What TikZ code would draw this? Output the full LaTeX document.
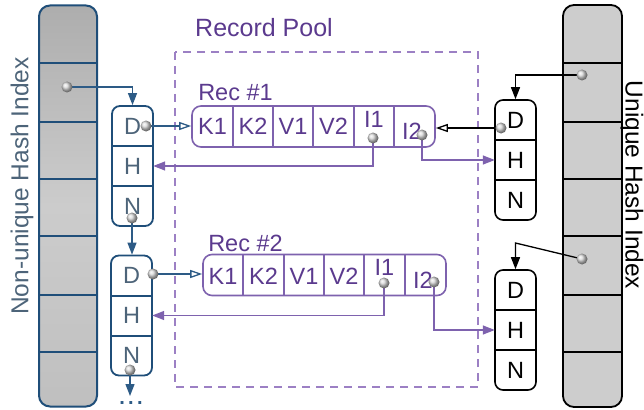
\documentclass[tikz,border=0pt]{standalone}
\usepackage{fontspec}
\setmainfont{Liberation Sans}
\usetikzlibrary{arrows.meta}

\definecolor{nblue}{HTML}{1F4E79}
\definecolor{ablue}{HTML}{2D5B86}
\definecolor{nslate}{HTML}{4D6479}
\definecolor{rpurple}{HTML}{7E62AE}
\definecolor{rtext}{HTML}{5B3A8E}
\definecolor{pooldash}{HTML}{9C80C4}
\definecolor{ubar}{HTML}{CDCDCD}

\tikzset{
  fsz/.style={font=\fontsize{#1}{#1}\selectfont},
  % hash index columns
  nbar/.style={draw=nblue, line width=2pt, rounded corners=11pt,
    top color=black!32, bottom color=black!25, middle color=black!20,
    minimum width=58pt, minimum height=401pt, inner sep=0pt},
  ubarbox/.style={draw=black, line width=1.8pt, rounded corners=11pt, fill=ubar,
    minimum width=59pt, minimum height=402pt, inner sep=0pt},
  % D/H/N chain entries
  lchain/.style={draw=nblue, line width=1.8pt, rounded corners=8pt, fill=white,
    minimum width=41pt, minimum height=120pt, inner sep=0pt},
  rchain/.style={draw=black, line width=1.6pt, rounded corners=8pt, fill=white,
    minimum width=41pt, minimum height=120pt, inner sep=0pt},
  cell/.style={minimum width=41pt, minimum height=40pt, inner sep=0pt, fsz=23.5},
  % records
  recbox/.style={draw=rpurple, line width=1.6pt, rounded corners=9pt, fill=white,
    minimum width=243pt, minimum height=41pt, inner sep=0pt},
  rcell/.style={inner sep=0pt, text=rtext, fsz=23.5},
  ball/.style={circle, minimum size=11pt, inner sep=0pt, shading=ball, ball color=gray!30},
  blink/.style={draw=ablue, line width=1.3pt, -{Triangle[length=12pt,width=9pt]}},
  bopen/.style={draw=ablue, line width=1.3pt, -{Triangle[open,length=12pt,width=8pt,fill=white]}},
  plink/.style={draw=rpurple, line width=1.3pt, -{Triangle[length=12pt,width=9pt]}},
  klink/.style={draw=black, line width=1.3pt, -{Triangle[length=12pt,width=9pt]}},
  kopen/.style={draw=black, line width=1.3pt, -{Triangle[open,length=12pt,width=8pt,fill=white]}},
}

\begin{document}
\begin{tikzpicture}[x=1pt, y=-1pt]
\useasboundingbox (0,0) rectangle (644,409);

% ---- record pool frame
\draw[pooldash, line width=1.8pt, dash pattern=on 8pt off 6pt] (175,52) rectangle (478,387);
\node[fsz=25, text=rtext] (pooltitle) at (264,27.5) {Record Pool};

% ---- non-unique hash index column
\node[nbar] (nbar) at (68,206) {};
\foreach \yy in {63,122,179,236,295,352}
  \draw[nblue, line width=2pt] (39,\yy) -- (97,\yy);
\node[rotate=90, fsz=24.5, text=nslate] (nlabel) at (22,186) {Non-unique Hash Index};

% ---- unique hash index column
\node[ubarbox] (ubar) at (592.5,206) {};
\foreach \yy in {63,122,179,236,295,352}
  \draw[black, line width=1.8pt] (563,\yy) -- (622,\yy);
\node[rotate=-90, fsz=24.5] (ulabel) at (632,185) {Unique Hash Index};

% ---- left chain entries
\node[lchain] (lcA) at (132.5,166) {};
\node[cell, text=nslate] (lcA-D) at (132.5,126) {D};
\node[cell, text=nslate] (lcA-H) at (132.5,166) {H};
\node[cell, text=nslate] (lcA-N) at (132.5,206) {N};
\draw[nblue, line width=1.8pt] (lcA-D.south west) -- (lcA-D.south east);
\draw[nblue, line width=1.8pt] (lcA-H.south west) -- (lcA-H.south east);

\node[lchain] (lcB) at (131.5,315.5) {};
\node[cell, text=nslate] (lcB-D) at (131.5,275.5) {D};
\node[cell, text=nslate] (lcB-H) at (131.5,315.5) {H};
\node[cell, text=nslate] (lcB-N) at (131.5,355.5) {N};
\draw[nblue, line width=1.8pt] (lcB-D.south west) -- (lcB-D.south east);
\draw[nblue, line width=1.8pt] (lcB-H.south west) -- (lcB-H.south east);

% ---- right chain entries
\node[rchain] (rcA) at (515.5,160) {};
\node[cell] (rcA-D) at (515.5,120) {D};
\node[cell] (rcA-H) at (515.5,160) {H};
\node[cell] (rcA-N) at (515.5,200) {N};
\draw[black, line width=1.6pt] (rcA-D.south west) -- (rcA-D.south east);
\draw[black, line width=1.6pt] (rcA-H.south west) -- (rcA-H.south east);

\node[rchain] (rcB) at (515.5,330) {};
\node[cell] (rcB-D) at (515.5,290) {D};
\node[cell] (rcB-H) at (515.5,330) {H};
\node[cell] (rcB-N) at (515.5,370) {N};
\draw[black, line width=1.6pt] (rcB-D.south west) -- (rcB-D.south east);
\draw[black, line width=1.6pt] (rcB-H.south west) -- (rcB-H.south east);

% ---- record #1
\node[fsz=23.5, text=rtext] (rec1lab) at (235.5,93) {Rec \#1};
\node[recbox] (rec1) at (313.5,126.5) {};
\foreach \xx in {233,273,313,354,394}
  \draw[rpurple, line width=1.4pt] (\xx,106) -- (\xx,147);
\node[rcell] (r1-K1) at (212.5,126) {K1};
\node[rcell] (r1-K2) at (253,126) {K2};
\node[rcell] (r1-V1) at (293,126) {V1};
\node[rcell] (r1-V2) at (333.5,126) {V2};
\node[rcell] (r1-I1) at (374,119) {I1};
\node[rcell] (r1-I2) at (412,131) {I2};

% ---- record #2
\node[fsz=23.5, text=rtext] (rec2lab) at (245.5,243.5) {Rec \#2};
\node[recbox] (rec2) at (324.5,275) {};
\foreach \xx in {243,284,324,364,405}
  \draw[rpurple, line width=1.4pt] (\xx,255) -- (\xx,295);
\node[rcell] (r2-K1) at (223,276) {K1};
\node[rcell] (r2-K2) at (263.5,276) {K2};
\node[rcell] (r2-V1) at (304,276) {V1};
\node[rcell] (r2-V2) at (344,276) {V2};
\node[rcell] (r2-I1) at (384.5,267) {I1};
\node[rcell] (r2-I2) at (423,280) {I2};

% ---- pointer origins
\coordinate (pN1) at (67,87);
\coordinate (pAD) at (146,126);
\coordinate (pAN) at (132,218);
\coordinate (pBD) at (153,274);
\coordinate (pBN) at (130,370);
\coordinate (p1I1) at (373,138);
\coordinate (p1I2) at (422,135);
\coordinate (p2I1) at (384,283);
\coordinate (p2I2) at (434,282);
\coordinate (pRD) at (501,128);
\coordinate (pU1) at (582,75);
\coordinate (pU2) at (582,259);
\coordinate (more) at (130,396);

% ---- connectors
\draw[blink] (pN1) -| (lcA.north);
\draw[bopen] (pAD) -- (pAD -| rec1.west);
\draw[blink] (pAN) -- (pAN |- lcB.north);
\draw[bopen] (pBD) -- (pBD -| rec2.west);
\draw[blink] (pBN) -- (more);

\draw[plink] (p1I1) |- (lcA-H.east);
\draw[plink] (p1I2) |- (rcA-H.west);
\draw[plink] (p2I1) |- (lcB-H.east);
\draw[plink] (p2I2) |- (rcB-H.west);

\draw[kopen] (pRD) -- (pRD -| rec1.east);
\draw[klink] (pU1) -| (rcA.north);
\draw[klink] (pU2) -- (rcB.north |- 0,243) -- (rcB.north);

% ---- pointer knobs
\foreach \p in {pN1,pAD,pAN,pBD,pBN,p1I1,p1I2,p2I1,p2I2,pRD,pU1,pU2}
  \node[ball] (k-\p) at (\p) {};

\node[font=\fontsize{20}{20}\selectfont\bfseries, text=ablue, anchor=base, inner sep=0pt] (dots) at (131,404.5) {.\,.\,.};
\end{tikzpicture}
\end{document}
